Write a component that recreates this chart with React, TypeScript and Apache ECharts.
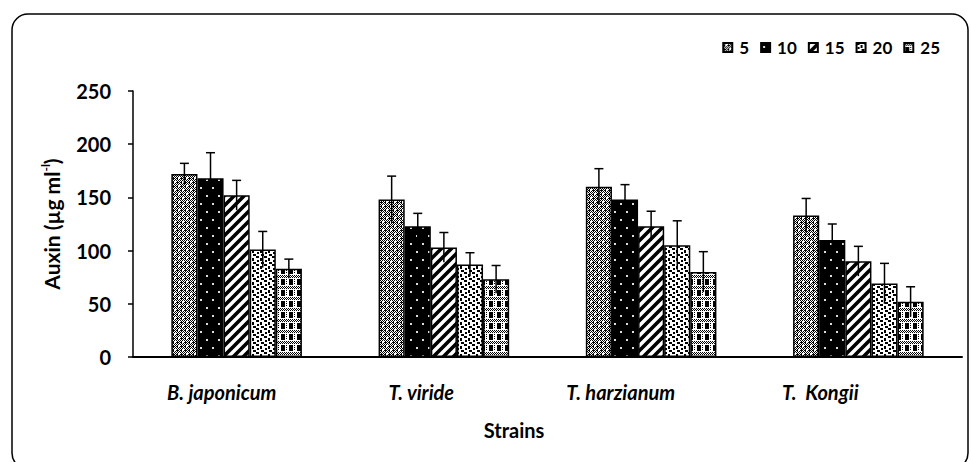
import React, { useEffect, useRef } from "react";
import * as echarts from "echarts";

const categories = ["B. japonicum", "T. viride", "T. harzianum", "T.  Kongii"];
const seriesNames = ["5", "10", "15", "20", "25"];
const values5 = [172, 148, 160, 133];
const values10 = [168, 123, 148, 110];
const values15 = [152, 103, 123, 90];
const values20 = [101, 87, 105, 69];
const values25 = [83, 73, 80, 52];
const err5 = [10, 22, 17, 16];
const err10 = [24, 12, 14, 15];
const err15 = [14, 14, 14, 14];
const err20 = [17, 11, 23, 19];
const err25 = [9, 13, 19, 14];
const yTicks = [0, 50, 100, 150, 200, 250];

const allValues = [values5, values10, values15, values20, values25];
const allErrors = [err5, err10, err15, err20, err25];

const FONT = "Lato, 'Open Sans', sans-serif";

function makeTile(w: number, h: number, draw: (ctx: CanvasRenderingContext2D) => void) {
  const c = document.createElement("canvas");
  c.width = w;
  c.height = h;
  const ctx = c.getContext("2d") as CanvasRenderingContext2D;
  ctx.fillStyle = "#fff";
  ctx.fillRect(0, 0, w, h);
  draw(ctx);
  return { image: c, repeat: "repeat", imageWidth: w, imageHeight: h } as any;
}

function patterns() {
  const p5 = makeTile(8, 8, (ctx) => {
    ctx.fillStyle = "#000";
    for (let y = 0; y < 8; y++)
      for (let x = 0; x < 8; x++) if ((x + y) % 2 === 0 || (x % 4 === 1 && y % 4 === 2)) ctx.fillRect(x, y, 1, 1);
    ctx.fillStyle = "#fff";
    ctx.fillRect(2, 1, 2, 2);
    ctx.fillRect(6, 5, 2, 2);
  });
  const p10 = makeTile(12, 16, (ctx) => {
    ctx.fillStyle = "#000";
    ctx.fillRect(0, 0, 12, 16);
    ctx.fillStyle = "#ddd";
    ctx.fillRect(2, 3, 2, 2);
    ctx.fillRect(8, 11, 2, 2);
  });
  const p15 = makeTile(10, 10, (ctx) => {
    ctx.strokeStyle = "#000";
    ctx.lineWidth = 3.6;
    ctx.beginPath();
    ctx.moveTo(-5, 15);
    ctx.lineTo(15, -5);
    ctx.moveTo(-5, 5);
    ctx.lineTo(5, -5);
    ctx.moveTo(5, 15);
    ctx.lineTo(15, 5);
    ctx.stroke();
  });
  const p20 = makeTile(8, 8, (ctx) => {
    ctx.fillStyle = "#000";
    ctx.fillRect(0, 0, 3, 2);
    ctx.fillRect(4, 2, 2, 3);
    ctx.fillRect(1, 4, 2, 2);
    ctx.fillRect(5, 6, 3, 2);
  });
  const p25 = makeTile(8, 11, (ctx) => {
    ctx.fillStyle = "#000";
    for (let y = 0; y < 3; y++)
      for (let x = 0; x < 8; x++) if ((x + y) % 2 === 0) ctx.fillRect(x, y, 1, 1);
    ctx.fillRect(1, 4, 4, 6);
    for (let y = 4; y < 10; y++) if (y % 2 === 0) ctx.fillRect(6, y, 1, 1);
  });
  return [p5, p10, p15, p20, p25];
}

export default function App() {
  const ref = useRef<HTMLDivElement>(null);
  useEffect(() => {
    if (!ref.current) return;
    const chart = echarts.init(ref.current, null, { renderer: "svg" });
    const pats = patterns();
    const barGapRatio = 0.37;
    const barSeries = seriesNames.map((name, i) => ({
      name,
      type: "bar",
      xAxisIndex: 0,
      yAxisIndex: 0,
      data: allValues[i],
      barGap: "0%",
      barCategoryGap: "37%",
      itemStyle: { color: pats[i], borderColor: "#000", borderWidth: 1.5 },
      z: 2,
    }));
    const errSeries = seriesNames.map((name, i) => ({
      name: "err" + name,
      type: "custom",
      xAxisIndex: 0,
      yAxisIndex: 0,
      z: 5,
      silent: true,
      encode: { x: 0, y: 1 },
      data: allValues[i].map((v, k) => [k, v, allErrors[i][k]]),
      renderItem: (params: any, api: any) => {
        const cat = api.value(0);
        const v = api.value(1);
        const e = api.value(2);
        const top = api.coord([cat, v + e]);
        const bot = api.coord([cat, v - e]);
        const band = api.size([1, 0])[0];
        const bw = (band * (1 - barGapRatio)) / 5;
        const x = top[0] + (i - 2) * bw;
        const style = { stroke: "#000", lineWidth: 1.5 };
        return {
          type: "group",
          children: [
            { type: "line", shape: { x1: x, y1: top[1], x2: x, y2: bot[1] }, style },
            { type: "line", shape: { x1: x - 4.5, y1: top[1], x2: x + 4.5, y2: top[1] }, style },
          ],
        };
      },
    }));
    chart.setOption({
      animation: false,
      backgroundColor: "#fff",
      textStyle: { fontFamily: FONT },
      graphic: [
        {
          type: "rect",
          shape: { x: 12, y: 14, width: 956, height: 455, r: 16 },
          style: { fill: "none", stroke: "#000", lineWidth: 1.5 },
          silent: true,
          z: -1,
        },
      ],
      legend: {
        data: seriesNames,
        right: 26,
        top: 34,
        itemWidth: 9,
        itemHeight: 9,
        itemGap: 11,
        icon: "rect",
        textStyle: { fontFamily: FONT, fontWeight: "bold", fontSize: 17, color: "#000", padding: [0, 0, 0, 2] },
      },
      grid: [
        { left: 133, right: 9, top: 91, bottom: 105 },
        { left: 122, width: 798, top: 91, bottom: 105 },
      ],
      xAxis: [
        {
          type: "category",
          gridIndex: 0,
          data: categories,
          axisLine: { lineStyle: { color: "#000", width: 2 } },
          axisTick: { show: false },
          axisLabel: { show: false },
        },
        {
          type: "category",
          gridIndex: 1,
          data: categories,
          axisLine: { show: false },
          axisTick: { show: false },
          axisLabel: {
            margin: 25,
            fontFamily: FONT,
            fontStyle: "italic",
            fontWeight: "bold",
            fontSize: 20,
            color: "#000",
          },
          name: "Strains",
          nameLocation: "middle",
          nameGap: 63,
          nameTextStyle: { fontFamily: FONT, fontWeight: "bold", fontSize: 20, color: "#000", padding: [0, 14, 0, 0] },
        },
      ],
      yAxis: [
        {
          type: "value",
          gridIndex: 0,
          min: yTicks[0],
          max: yTicks[yTicks.length - 1],
          interval: 50,
          axisLine: { show: true, lineStyle: { color: "#000", width: 1.5 } },
          axisTick: { show: true, length: 5, lineStyle: { color: "#000", width: 1.5 } },
          splitLine: { show: false },
          axisLabel: { margin: 22, fontFamily: FONT, fontWeight: "bold", fontSize: 20, color: "#000" },
          name: "{a|Auxin (µg ml}{s|-l}{a|)}",
          nameLocation: "middle",
          nameRotate: 90,
          nameGap: 70,
          nameTextStyle: {
            color: "#000",
            rich: {
              a: { fontFamily: FONT, fontWeight: "bold", fontSize: 21, color: "#000", lineHeight: 24 },
              s: { fontFamily: FONT, fontWeight: "bold", fontSize: 12, color: "#000", verticalAlign: "top", lineHeight: 12, padding: [0, 0, 6, 0] },
            },
          },
        },
        { type: "value", gridIndex: 1, show: false, min: 0, max: 250 },
      ],
      series: [...barSeries, ...errSeries],
    });
    return () => chart.dispose();
  }, []);
  return <div ref={ref} style={{ position: "fixed", left: 0, top: 0, width: 971, height: 462 }} />;
}
